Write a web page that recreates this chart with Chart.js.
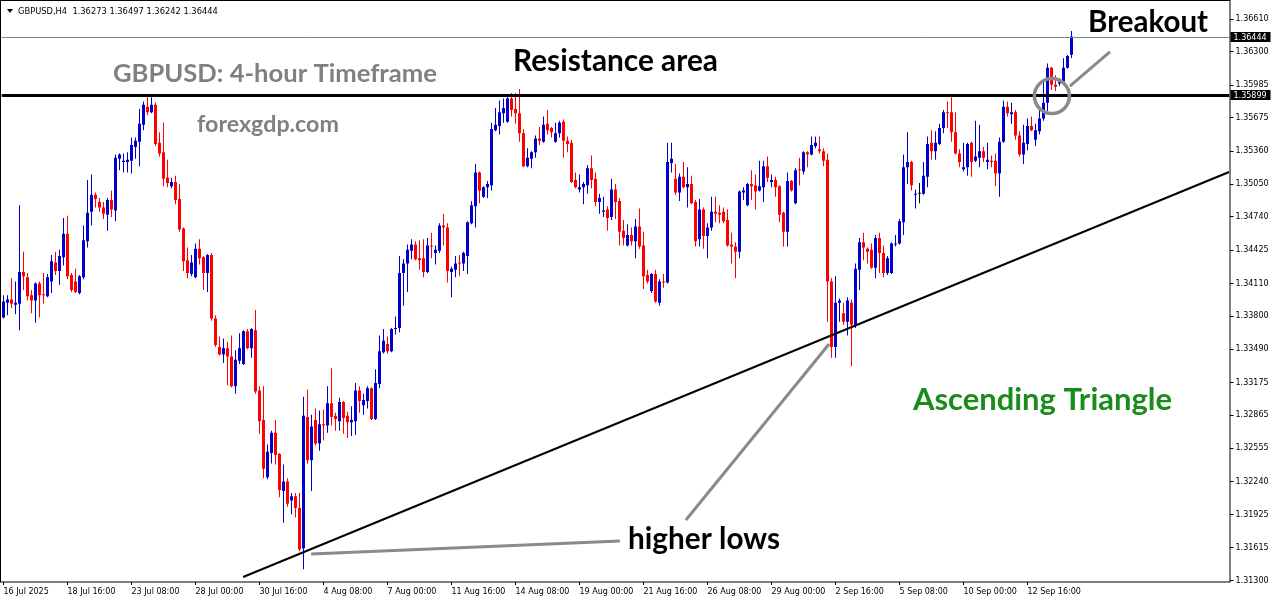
<!DOCTYPE html>
<html>
<head>
<meta charset="utf-8">
<title>GBPUSD H4</title>
<script src="https://cdn.jsdelivr.net/npm/chart.js@4.4.1/dist/chart.umd.min.js"></script>
<style>
  html, body { margin: 0; padding: 0; background: #fff; }
  canvas { display: block; }
</style>
</head>
<body>
<canvas id="chart" width="1276" height="604"></canvas>
<script>
// H4 candles, 16 Jul 2025 .. 15 Sep 2025
const opens = [
  1.3379,1.3393,1.3396,1.3391,1.3392,1.3422,1.3417,1.3400,1.3395,1.3411,
  1.3401,1.3399,1.3413,1.3431,1.3423,1.3436,1.3458,1.3419,1.3413,1.3402,
  1.3417,1.3451,1.3479,1.3495,1.3488,1.3483,1.3476,1.3490,1.3480,1.3529,
  1.3526,1.3526,1.3527,1.3540,1.3545,1.3561,1.3578,1.3573,1.3580,1.3544,
  1.3535,1.3511,1.3503,1.3507,1.3491,1.3463,1.3433,1.3420,1.3417,1.3444,
  1.3436,1.3421,1.3438,1.3378,1.3351,1.3344,1.3350,1.3342,1.3314,1.3338,
  1.3335,1.3366,1.3350,1.3367,1.3310,1.3282,1.3228,1.3251,1.3270,1.3250,
  1.3215,1.3224,1.3206,1.3210,1.3199,1.3161,1.3285,1.3244,1.3282,1.3260,
  1.3278,1.3277,1.3298,1.3286,1.3281,1.3299,1.3286,1.3280,1.3281,1.3310,
  1.3296,1.3300,1.3312,1.3283,1.3316,1.3346,1.3354,1.3347,1.3368,1.3369,
  1.3421,1.3430,1.3442,1.3448,1.3435,1.3435,1.3422,1.3447,1.3440,1.3442,
  1.3466,1.3464,1.3422,1.3424,1.3431,1.3430,1.3437,1.3468,1.3484,1.3516,
  1.3493,1.3502,1.3504,1.3556,1.3560,1.3572,1.3564,1.3586,1.3576,1.3572,
  1.3553,1.3522,1.3529,1.3535,1.3548,1.3545,1.3562,1.3558,1.3545,1.3553,
  1.3564,1.3546,1.3544,1.3509,1.3500,1.3502,1.3504,1.3520,1.3510,1.3488,
  1.3479,1.3481,1.3474,1.3500,1.3489,1.3461,1.3447,1.3457,1.3451,1.3465,
  1.3447,1.3419,1.3404,1.3420,1.3393,1.3413,1.3412,1.3525,1.3510,1.3497,
  1.3512,1.3502,1.3505,1.3488,1.3453,1.3481,1.3456,1.3464,1.3479,1.3478,
  1.3479,1.3471,1.3448,1.3446,1.3441,1.3497,1.3485,1.3505,1.3504,1.3499,
  1.3502,1.3522,1.3507,1.3509,1.3503,1.3478,1.3460,1.3508,1.3487,1.3519,
  1.3517,1.3535,1.3533,1.3541,1.3538,1.3536,1.3528,1.3413,1.3351,1.3393,
  1.3383,1.3375,1.3393,1.3372,1.3424,1.3450,1.3444,1.3443,1.3426,1.3454,
  1.3440,1.3421,1.3421,1.3448,1.3449,1.3469,1.3521,1.3526,1.3495,1.3496,
  1.3496,1.3512,1.3544,1.3536,1.3543,1.3558,1.3573,1.3573,1.3554,1.3534,
  1.3519,1.3521,1.3544,1.3527,1.3530,1.3536,1.3526,1.3527,1.3527,1.3515,
  1.3545,1.3578,1.3571,1.3573,1.3551,1.3533,1.3543,1.3560,1.3547,1.3555,
  1.3567,1.3582,1.3615,1.3599,1.3600,1.3602,1.3615,1.36273
];
const highs = [
  1.3400,1.3400,1.3416,1.3413,1.3485,1.3441,1.3421,1.3405,1.3412,1.3413,
  1.3421,1.3420,1.3438,1.3441,1.3443,1.3473,1.3475,1.3421,1.3425,1.3419,
  1.3466,1.3509,1.3514,1.3497,1.3492,1.3488,1.3492,1.3499,1.3533,1.3534,
  1.3534,1.3535,1.3549,1.3549,1.3576,1.3583,1.3587,1.3587,1.3582,1.3554,
  1.3563,1.3528,1.3511,1.3513,1.3505,1.3464,1.3445,1.3438,1.3449,1.3453,
  1.3437,1.3439,1.3440,1.3381,1.3361,1.3359,1.3356,1.3362,1.3348,1.3364,
  1.3367,1.3368,1.3369,1.3386,1.3314,1.3314,1.3259,1.3272,1.3282,1.3251,
  1.3240,1.3227,1.3213,1.3213,1.3213,1.3304,1.3311,1.3287,1.3293,1.3291,
  1.3292,1.3314,1.3331,1.3289,1.3303,1.3300,1.3290,1.3295,1.3317,1.3314,
  1.3307,1.3314,1.3313,1.3330,1.3362,1.3368,1.3361,1.3369,1.3380,1.3437,
  1.3434,1.3448,1.3453,1.3451,1.3452,1.3453,1.3454,1.3459,1.3447,1.3468,
  1.3477,1.3468,1.3427,1.3437,1.3438,1.3441,1.3470,1.3489,1.3524,1.3517,
  1.3503,1.3508,1.3563,1.3577,1.3584,1.3586,1.3587,1.3591,1.3591,1.3595,
  1.3557,1.3539,1.3536,1.3551,1.3559,1.3569,1.3575,1.3559,1.3563,1.3565,
  1.3566,1.3550,1.3547,1.3516,1.3514,1.3507,1.3523,1.3532,1.3516,1.3496,
  1.3493,1.3484,1.3510,1.3505,1.3492,1.3471,1.3467,1.3464,1.3472,1.3482,
  1.3460,1.3424,1.3421,1.3424,1.3415,1.3420,1.3544,1.3544,1.3524,1.3515,
  1.3526,1.3521,1.3513,1.3490,1.3491,1.3483,1.3468,1.3493,1.3493,1.3485,
  1.3483,1.3481,1.3459,1.3450,1.3499,1.3502,1.3506,1.3518,1.3514,1.3527,
  1.3527,1.3531,1.3514,1.3512,1.3504,1.3479,1.3516,1.3509,1.3520,1.3530,
  1.3536,1.3536,1.3550,1.3550,1.3550,1.3539,1.3534,1.3416,1.3418,1.3397,
  1.3393,1.3398,1.3396,1.3430,1.3454,1.3459,1.3445,1.3449,1.3457,1.3459,
  1.3447,1.3437,1.3450,1.3457,1.3472,1.3533,1.3554,1.3527,1.3500,1.3506,
  1.3526,1.3550,1.3556,1.3555,1.3562,1.3575,1.3583,1.3587,1.3573,1.3538,
  1.3544,1.3544,1.3545,1.3565,1.3561,1.3540,1.3544,1.3532,1.3534,1.3549,
  1.3584,1.3583,1.3582,1.3575,1.3555,1.3561,1.3567,1.3569,1.3562,1.3577,
  1.3603,1.3619,1.3616,1.3608,1.3605,1.3624,1.3627,1.36497
];
const lows = [
  1.3378,1.3381,1.3388,1.3382,1.3367,1.3405,1.3395,1.3383,1.3374,1.3379,
  1.3392,1.3398,1.3402,1.3419,1.3410,1.3428,1.3415,1.3403,1.3402,1.3401,
  1.3415,1.3445,1.3466,1.3483,1.3479,1.3472,1.3461,1.3474,1.3470,1.3518,
  1.3516,1.3516,1.3515,1.3529,1.3522,1.3556,1.3570,1.3572,1.3541,1.3531,
  1.3503,1.3502,1.3501,1.3486,1.3460,1.3423,1.3416,1.3418,1.3416,1.3429,
  1.3405,1.3403,1.3376,1.3351,1.3343,1.3336,1.3315,1.3313,1.3307,1.3335,
  1.3334,1.3349,1.3341,1.3307,1.3269,1.3227,1.3226,1.3241,1.3240,1.3209,
  1.3185,1.3200,1.3193,1.3190,1.3158,1.3141,1.3241,1.3215,1.3258,1.3253,
  1.3263,1.3270,1.3277,1.3272,1.3272,1.3269,1.3265,1.3267,1.3268,1.3289,
  1.3287,1.3293,1.3282,1.3282,1.3312,1.3345,1.3345,1.3346,1.3363,1.3365,
  1.3390,1.3403,1.3434,1.3433,1.3424,1.3417,1.3421,1.3435,1.3429,1.3440,
  1.3447,1.3412,1.3398,1.3417,1.3418,1.3423,1.3420,1.3467,1.3464,1.3487,
  1.3492,1.3492,1.3499,1.3555,1.3552,1.3563,1.3563,1.3569,1.3562,1.3545,
  1.3521,1.3521,1.3520,1.3530,1.3542,1.3544,1.3552,1.3549,1.3544,1.3549,
  1.3530,1.3535,1.3506,1.3501,1.3497,1.3486,1.3496,1.3501,1.3484,1.3477,
  1.3474,1.3461,1.3471,1.3472,1.3447,1.3447,1.3446,1.3447,1.3435,1.3444,
  1.3406,1.3411,1.3402,1.3393,1.3390,1.3407,1.3411,1.3516,1.3495,1.3489,
  1.3501,1.3483,1.3486,1.3446,1.3446,1.3444,1.3435,1.3461,1.3469,1.3468,
  1.3468,1.3446,1.3430,1.3416,1.3435,1.3490,1.3484,1.3490,1.3481,1.3498,
  1.3488,1.3507,1.3502,1.3493,1.3469,1.3446,1.3446,1.3498,1.3486,1.3504,
  1.3514,1.3521,1.3532,1.3539,1.3534,1.3522,1.3375,1.3341,1.3341,1.3375,
  1.3372,1.3362,1.3333,1.3369,1.3405,1.3433,1.3430,1.3425,1.3416,1.3421,
  1.3417,1.3419,1.3420,1.3446,1.3448,1.3457,1.3505,1.3499,1.3482,1.3487,
  1.3495,1.3502,1.3528,1.3528,1.3542,1.3553,1.3558,1.3545,1.3533,1.3521,
  1.3517,1.3513,1.3512,1.3526,1.3521,1.3526,1.3519,1.3521,1.3503,1.3493,
  1.3544,1.3569,1.3562,1.3547,1.3531,1.3524,1.3537,1.3555,1.3541,1.3552,
  1.3565,1.3574,1.3594,1.3593,1.3598,1.3599,1.3614,1.36242
];
const closes = [
  1.3394,1.3396,1.3392,1.3393,1.3422,1.3418,1.3399,1.3395,1.3411,1.3400,
  1.3400,1.3417,1.3432,1.3423,1.3437,1.3458,1.3418,1.3405,1.3403,1.3418,
  1.3452,1.3478,1.3495,1.3491,1.3483,1.3477,1.3490,1.3481,1.3530,1.3533,
  1.3527,1.3528,1.3542,1.3546,1.3562,1.3580,1.3573,1.3580,1.3543,1.3534,
  1.3510,1.3506,1.3507,1.3490,1.3462,1.3432,1.3421,1.3431,1.3444,1.3435,
  1.3421,1.3438,1.3378,1.3353,1.3344,1.3350,1.3342,1.3314,1.3339,1.3350,
  1.3366,1.3350,1.3368,1.3309,1.3281,1.3236,1.3252,1.3270,1.3249,1.3216,
  1.3224,1.3203,1.3210,1.3199,1.3160,1.3286,1.3244,1.3276,1.3260,1.3278,
  1.3277,1.3298,1.3285,1.3283,1.3299,1.3284,1.3280,1.3282,1.3310,1.3300,
  1.3301,1.3312,1.3283,1.3317,1.3347,1.3357,1.3347,1.3368,1.3369,1.3421,
  1.3430,1.3443,1.3448,1.3434,1.3433,1.3422,1.3447,1.3446,1.3443,1.3466,
  1.3464,1.3423,1.3425,1.3430,1.3430,1.3440,1.3469,1.3485,1.3516,1.3499,
  1.3502,1.3505,1.3557,1.3561,1.3573,1.3577,1.3586,1.3575,1.3572,1.3553,
  1.3522,1.3530,1.3535,1.3548,1.3546,1.3561,1.3556,1.3554,1.3553,1.3563,
  1.3546,1.3543,1.3507,1.3502,1.3502,1.3505,1.3520,1.3509,1.3488,1.3492,
  1.3480,1.3473,1.3500,1.3488,1.3460,1.3454,1.3457,1.3451,1.3465,1.3446,
  1.3418,1.3413,1.3420,1.3394,1.3413,1.3412,1.3526,1.3529,1.3497,1.3512,
  1.3502,1.3505,1.3487,1.3451,1.3481,1.3456,1.3464,1.3479,1.3477,1.3476,
  1.3470,1.3447,1.3446,1.3441,1.3498,1.3499,1.3505,1.3503,1.3498,1.3503,
  1.3522,1.3511,1.3509,1.3502,1.3476,1.3460,1.3508,1.3499,1.3518,1.3518,
  1.3535,1.3533,1.3542,1.3544,1.3536,1.3527,1.3413,1.3351,1.3393,1.3395,
  1.3375,1.3395,1.3372,1.3425,1.3450,1.3445,1.3441,1.3426,1.3454,1.3440,
  1.3421,1.3435,1.3449,1.3449,1.3470,1.3521,1.3526,1.3504,1.3496,1.3496,
  1.3513,1.3543,1.3536,1.3544,1.3558,1.3573,1.3572,1.3554,1.3534,1.3526,
  1.3521,1.3543,1.3526,1.3531,1.3536,1.3530,1.3528,1.3526,1.3515,1.3545,
  1.3578,1.3572,1.3573,1.3551,1.3533,1.3544,1.3560,1.3556,1.3556,1.3567,
  1.3582,1.3615,1.3599,1.3597,1.3602,1.3615,1.3626,1.36444
];

const xTickLabels = ['16 Jul 2025', '18 Jul 16:00', '23 Jul 08:00', '28 Jul 00:00', '30 Jul 16:00',
  '4 Aug 08:00', '7 Aug 00:00', '11 Aug 16:00', '14 Aug 08:00', '19 Aug 00:00', '21 Aug 16:00',
  '26 Aug 08:00', '29 Aug 00:00', '2 Sep 16:00', '5 Sep 08:00', '10 Sep 00:00', '12 Sep 16:00'];
const yTickValues = [1.31300, 1.31615, 1.31925, 1.32240, 1.32555, 1.32865, 1.33175, 1.33490, 1.33800,
  1.34110, 1.34425, 1.34740, 1.35050, 1.35360, 1.35675, 1.35985, 1.36300, 1.36610];

const bidPrice = 1.36444;
const resistancePrice = 1.35899;
const headerText = 'GBPUSD,H4  1.36273 1.36497 1.36242 1.36444';

// drawn objects, [bar index, price]
const trendLine = [[59.9, 1.31337], [306.4, 1.35165]];
const pointers = [
  [[76.9, 1.31555], [154.1, 1.31677]],
  [[170.6, 1.31876], [206.4, 1.33539]],
  [[266.6, 1.35977], [276.6, 1.36299]]
];
const circleAt = [262.1, 1.35892];

const notes = [
  { text: 'Breakout', x: 1088, y: 32, w: 120, color: '#000000' },
  { text: 'Resistance area', x: 513, y: 71, w: 205, color: '#000000' },
  { text: 'GBPUSD: 4-hour Timeframe', x: 113, y: 82, w: 324, color: '#808080' },
  { text: 'forexgdp.com', x: 197, y: 132, w: 142, color: '#808080' },
  { text: 'Ascending Triangle', x: 913, y: 410, w: 259, color: '#1a8c1a' },
  { text: 'higher lows', x: 628, y: 549, w: 152, color: '#000000' }
];

const SLOTS = 307;      // bars that fit in the window
const TICK_STEP = 16;   // a date label every 16 bars
const UP = '#0000cd', DOWN = '#ff0000';

const labels = Array.from({ length: SLOTS }, (_, i) => String(i));
const colors = opens.map((o, i) => closes[i] > o ? UP : closes[i] < o ? DOWN : '#000000');
const wicks = lows.map((l, i) => [l, highs[i]]);
const bodies = opens.map((o, i) => [Math.min(o, closes[i]), Math.max(o, closes[i])]);

const axisFont = { family: 'DejaVu Sans', size: 8 };

function fitSize(ctx, font, text, width) {
  ctx.font = font.replace('{s}', '100');
  return 100 * width / ctx.measureText(text).width;
}

const overlay = {
  id: 'overlay',
  afterDatasetsDraw(chart) {
    const { ctx, chartArea: a, scales: { x, y } } = chart;
    const P = ([b, p]) => [x.getPixelForValue(b), y.getPixelForValue(p)];
    ctx.save();
    ctx.beginPath();
    ctx.rect(a.left, a.top, a.right - a.left, a.bottom - a.top);
    ctx.clip();

    // bid line
    const yb = Math.round(y.getPixelForValue(bidPrice)) + 0.5;
    ctx.strokeStyle = '#778899';
    ctx.lineWidth = 1;
    ctx.beginPath(); ctx.moveTo(a.left, yb); ctx.lineTo(a.right, yb); ctx.stroke();

    // resistance (3px pen grows downward, as in the terminal)
    const yr = Math.round(y.getPixelForValue(resistancePrice)) + 1.5;
    ctx.strokeStyle = '#000';
    ctx.lineWidth = 3;
    ctx.beginPath(); ctx.moveTo(a.left, yr); ctx.lineTo(a.right, yr); ctx.stroke();

    // trend line
    ctx.lineWidth = 2;
    ctx.beginPath();
    ctx.moveTo(...P(trendLine[0])); ctx.lineTo(...P(trendLine[1]));
    ctx.stroke();

    // grey pointers and circle
    ctx.strokeStyle = '#8a8a8a';
    ctx.lineWidth = 3;
    pointers.forEach(([s, e]) => {
      ctx.beginPath(); ctx.moveTo(...P(s)); ctx.lineTo(...P(e)); ctx.stroke();
    });
    const [cx, cy] = P(circleAt);
    ctx.lineWidth = 3.5;
    ctx.beginPath(); ctx.arc(cx, cy + 1, 17.5, 0, Math.PI * 2); ctx.stroke();

    // captions
    notes.forEach(n => {
      const f = 'bold {s}px Lato';
      const size = fitSize(ctx, f, n.text, n.w);
      ctx.font = f.replace('{s}', size.toFixed(2));
      ctx.fillStyle = n.color;
      ctx.textBaseline = 'alphabetic';
      ctx.textAlign = 'left';
      ctx.fillText(n.text, n.x, n.y);
    });
    ctx.restore();
  },
  afterDraw(chart) {
    const { ctx, chartArea: a, scales: { y } } = chart;
    ctx.save();
    ctx.strokeStyle = '#000';
    ctx.lineWidth = 1;
    ctx.strokeRect(0.5, 0.5, Math.round(a.right) - 0.5, Math.round(a.bottom) - 0.5);

    // price tags on the axis
    ctx.font = '8px "DejaVu Sans"';
    ctx.textBaseline = 'middle';
    ctx.textAlign = 'left';
    [bidPrice, resistancePrice].forEach(p => {
      const py = Math.round(y.getPixelForValue(p)) + (p === resistancePrice ? 1 : 0);
      ctx.fillStyle = '#000';
      ctx.fillRect(a.right + 1, py - 5, 40, 10);
      ctx.fillStyle = '#fff';
      ctx.fillText(p.toFixed(5), a.right + 4, py + 0.5);
    });

    // header
    ctx.fillStyle = '#000';
    ctx.beginPath();
    ctx.moveTo(7, 9); ctx.lineTo(13, 9); ctx.lineTo(10, 13); ctx.closePath();
    ctx.fill();
    const hf = '{s}px "DejaVu Sans"';
    ctx.font = hf.replace('{s}', fitSize(ctx, hf, headerText, 200).toFixed(2));
    ctx.textBaseline = 'alphabetic';
    ctx.fillText(headerText, 18, 14);
    ctx.restore();
  }
};

new Chart(document.getElementById('chart'), {
  type: 'bar',
  data: {
    labels: labels,
    datasets: [
      { data: wicks, backgroundColor: colors, barThickness: 1, grouped: false, order: 2, inflateAmount: 0 },
      { data: bodies, backgroundColor: colors, barThickness: 3, grouped: false, order: 1, inflateAmount: 0, minBarLength: 1 }
    ]
  },
  options: {
    responsive: false,
    animation: false,
    devicePixelRatio: 1,
    layout: { padding: { left: 1.5, top: 1, right: 0, bottom: 0 } },
    plugins: { legend: { display: false }, tooltip: { enabled: false } },
    scales: {
      x: {
        type: 'category',
        offset: true,
        border: { display: false },
        grid: { drawOnChartArea: false, drawTicks: true, tickLength: 3, color: '#000', offset: false },
        afterBuildTicks: s => { s.ticks = xTickLabels.map((_, j) => ({ value: j * TICK_STEP })); },
        ticks: {
          autoSkip: false, maxRotation: 0, minRotation: 0, align: 'start', padding: 2,
          color: '#000', font: axisFont,
          callback: (v, i) => xTickLabels[i]
        },
        afterFit: s => { s.height = 22; s.paddingLeft = 0; s.paddingRight = 0; }
      },
      y: {
        position: 'right',
        min: 1.31290,
        max: 1.367805,
        border: { display: false },
        grid: { drawOnChartArea: false, drawTicks: true, tickLength: 4, color: '#000' },
        afterBuildTicks: s => { s.ticks = yTickValues.map(v => ({ value: v })); },
        ticks: {
          padding: 2, color: '#000', font: axisFont,
          callback: v => Number(v).toFixed(5)
        },
        afterFit: s => { s.width = 46.5; s.paddingTop = 0; s.paddingBottom = 0; }
      }
    }
  },
  plugins: [overlay]
});
</script>
</body>
</html>
